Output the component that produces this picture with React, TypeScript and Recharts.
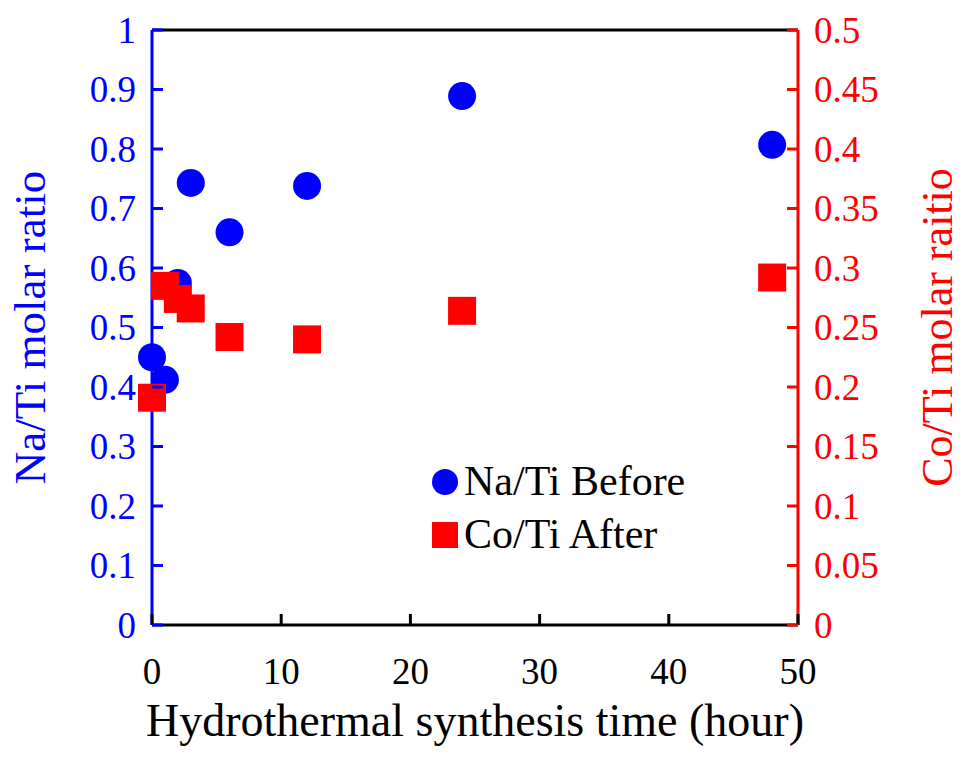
import { ScatterChart, Scatter, XAxis, YAxis, ReferenceLine } from 'recharts';

const hours = [0, 1, 2, 3, 6, 12, 24, 48];
const naTiBefore = [0.45, 0.412, 0.575, 0.743, 0.66, 0.738, 0.889, 0.807];
const coTiAfter = [0.191, 0.285, 0.274, 0.266, 0.242, 0.24, 0.264, 0.292];

const xTicks = [0, 10, 20, 30, 40, 50];
const leftTicks = [0, 0.1, 0.2, 0.3, 0.4, 0.5, 0.6, 0.7, 0.8, 0.9, 1];
const rightTicks = [0, 0.05, 0.1, 0.15, 0.2, 0.25, 0.3, 0.35, 0.4, 0.45, 0.5];

const seriesNames = ['Na/Ti Before', 'Co/Ti After'];

const naData = hours.map((h, i) => ({ h, v: naTiBefore[i] }));
const coData = hours.map((h, i) => ({ h, v: coTiAfter[i] }));

const BLUE = '#0000ff';
const RED = '#ff0000';
const FONT = '"Liberation Serif", "Times New Roman", serif';
const TICK_LEN = 11;
const MARGIN = 16;

const fmt = (v: number) => String(Number(v.toFixed(2)));

function LeftTick({ x, y, payload }: any) {
  const ax = x + MARGIN;
  return (
    <g>
      <line x1={ax} x2={ax + TICK_LEN} y1={y} y2={y} stroke={BLUE} strokeWidth={3} />
      <text x={x} y={y} textAnchor="end" dominantBaseline="central" fill={BLUE} fontSize={37} fontFamily={FONT}>
        {fmt(payload.value)}
      </text>
    </g>
  );
}

function RightTick({ x, y, payload }: any) {
  const ax = x - MARGIN;
  return (
    <g>
      <line x1={ax} x2={ax - TICK_LEN} y1={y} y2={y} stroke={RED} strokeWidth={3} />
      <text x={x} y={y} textAnchor="start" dominantBaseline="central" fill={RED} fontSize={37} fontFamily={FONT}>
        {fmt(payload.value)}
      </text>
    </g>
  );
}

function BottomTick({ x, y, payload }: any) {
  const ay = y - MARGIN;
  return (
    <g>
      <line x1={x} x2={x} y1={ay} y2={ay - TICK_LEN} stroke="#000" strokeWidth={3} />
      <text x={x} y={y + 30} textAnchor="middle" dominantBaseline="central" fill="#000" fontSize={37} fontFamily={FONT}>
        {payload.value}
      </text>
    </g>
  );
}

const circle = (p: any) => <circle cx={p.cx} cy={p.cy} r={14} fill={BLUE} />;
const square = (p: any) => <rect x={p.cx - 14} y={p.cy - 14} width={28} height={28} fill={RED} />;

export default function App() {
  return (
    <div style={{ position: 'absolute', left: 0, top: 0, width: 965, height: 758, background: '#fff' }}>
      <ScatterChart width={965} height={758} margin={{ top: 30, right: 0, bottom: 0, left: 0 }}>
        <XAxis
          type="number"
          dataKey="h"
          domain={[0, 50]}
          ticks={xTicks}
          height={133}
          tickSize={0}
          tickMargin={MARGIN}
          axisLine={{ stroke: '#000', strokeWidth: 3 }}
          tick={<BottomTick />}
          label={{ value: 'Hydrothermal synthesis time (hour)', position: 'insideBottom', offset: 22, fill: '#000', fontSize: 46, fontFamily: FONT }}
        />
        <YAxis
          yAxisId="left"
          type="number"
          dataKey="v"
          domain={[0, 1]}
          ticks={leftTicks}
          width={152}
          tickSize={0}
          tickMargin={MARGIN}
          axisLine={{ stroke: BLUE, strokeWidth: 3 }}
          tick={<LeftTick />}
          label={(props: any) => {
            const vb = props.viewBox;
            const cx = 30;
            const cy = vb.y + vb.height / 2;
            return (
              <text x={cx} y={cy} transform={`rotate(-90 ${cx} ${cy})`} textAnchor="middle" dominantBaseline="central" fill={BLUE} fontSize={45} fontFamily={FONT}>
                Na/Ti molar ratio
              </text>
            );
          }}
        />
        <YAxis
          yAxisId="right"
          orientation="right"
          type="number"
          dataKey="v"
          domain={[0, 0.5]}
          ticks={rightTicks}
          width={167}
          tickSize={0}
          tickMargin={MARGIN}
          axisLine={{ stroke: RED, strokeWidth: 3 }}
          tick={<RightTick />}
          label={(props: any) => {
            const vb = props.viewBox;
            const cx = 937;
            const cy = vb.y + vb.height / 2;
            return (
              <text x={cx} y={cy} transform={`rotate(-90 ${cx} ${cy})`} textAnchor="middle" dominantBaseline="central" fill={RED} fontSize={44} fontFamily={FONT}>
                Co/Ti molar raitio
              </text>
            );
          }}
        />
        <ReferenceLine yAxisId="left" y={1} stroke="#000" strokeWidth={3} />
        <Scatter name={seriesNames[0]} yAxisId="left" data={naData} shape={circle} fill={BLUE} isAnimationActive={false} />
        <Scatter name={seriesNames[1]} yAxisId="right" data={coData} shape={square} fill={RED} isAnimationActive={false} />
      </ScatterChart>
      <div style={{ position: 'absolute', left: 430, top: 455, fontFamily: FONT, fontSize: 42, lineHeight: '53px', color: '#000' }}>
        {seriesNames.map((name, i) => (
          <div key={name} style={{ display: 'flex', alignItems: 'center' }}>
            <svg width={30} height={30} style={{ marginRight: 4 }}>
              {i === 0 ? <circle cx={15} cy={15} r={13} fill={BLUE} /> : <rect x={2} y={2} width={26} height={26} fill={RED} />}
            </svg>
            <span>{name}</span>
          </div>
        ))}
      </div>
    </div>
  );
}
